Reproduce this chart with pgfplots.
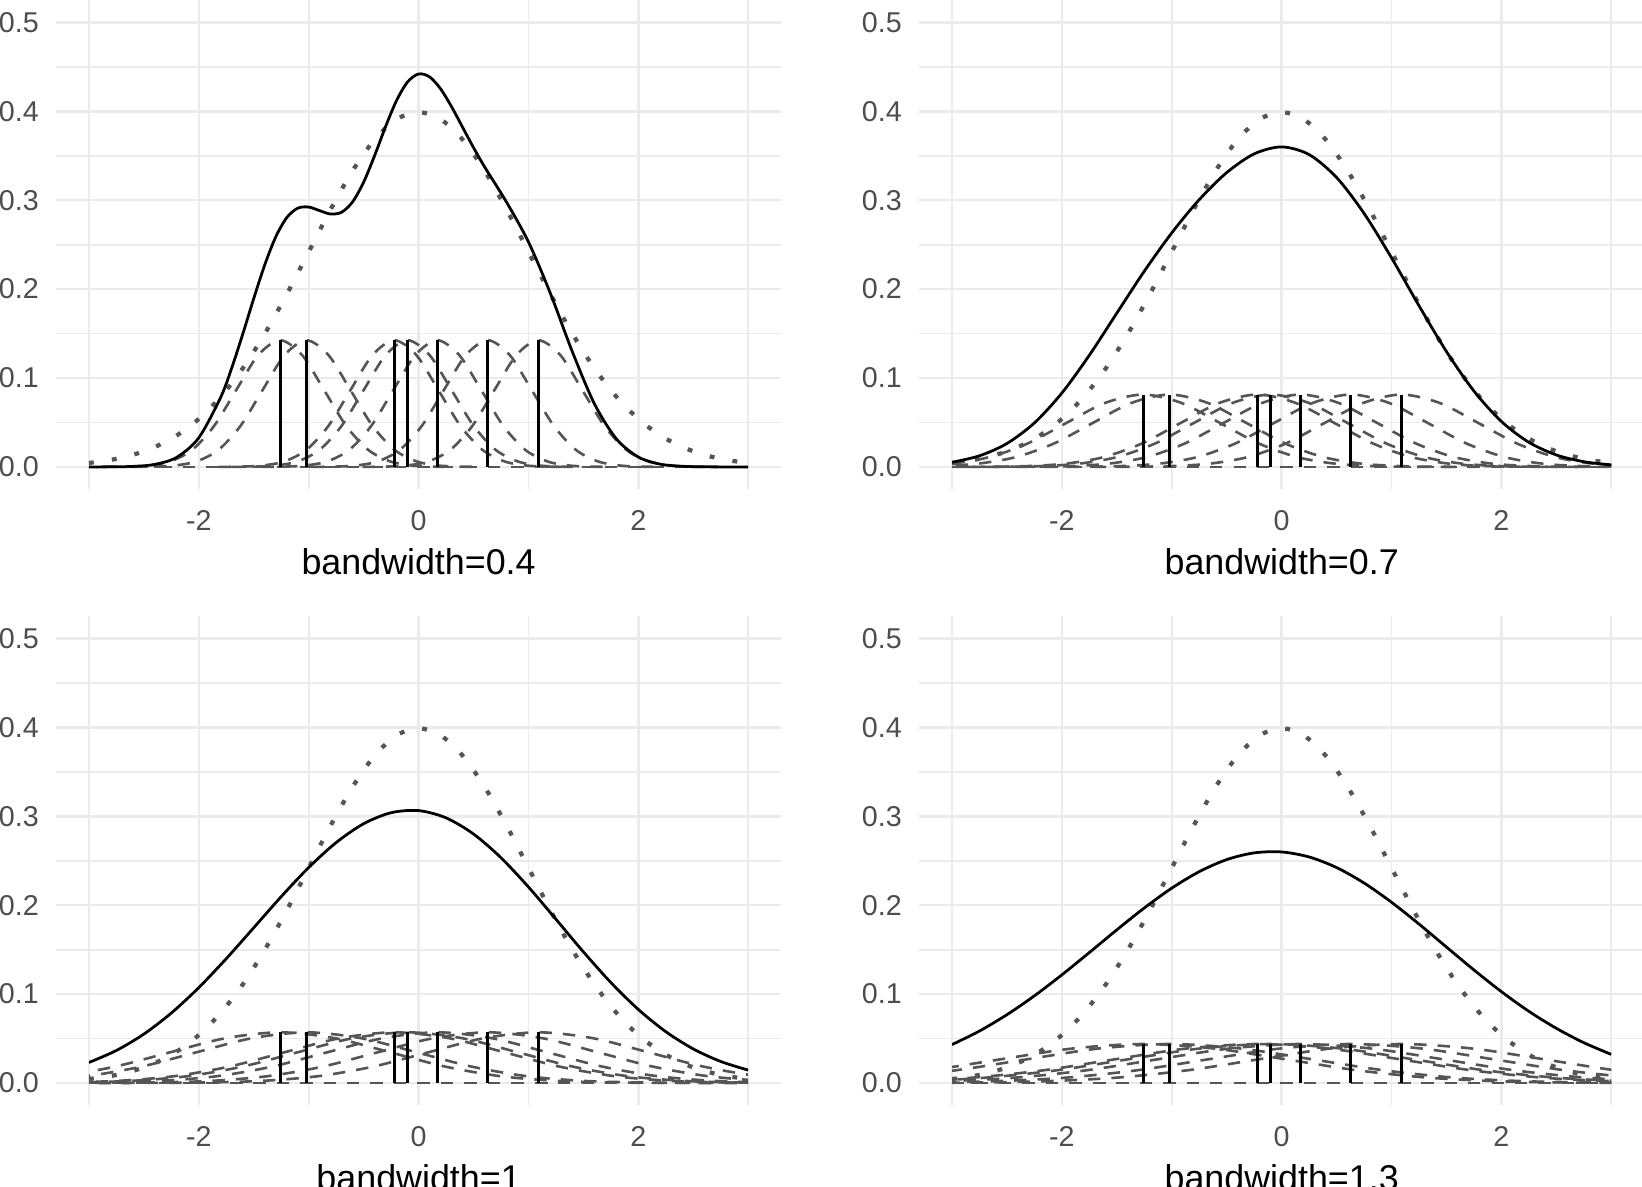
\documentclass[border=0pt]{standalone}
\usepackage{fontspec}
\setmainfont{Liberation Sans}
\usepackage{pgfplots}
\usepackage{pgfplotstable}
\pgfplotsset{compat=1.18}

\definecolor{gridgray}{HTML}{EBEBEB}
\definecolor{tickgray}{HTML}{4D4D4D}
\definecolor{curvegray}{HTML}{555555}

% Sample: -1.26 -1.02 -0.22 -0.10 0.17 0.63 1.09 (n = 7)
% Kernel tables: one shared height column y, and the x positions of each of the 7 scaled kernels
\pgfplotstableread{
y x1 x2 x3 x4 x5 x6 x7
0.00005 -2.86 -2.62 -1.82 -1.70 -1.43 -0.97 -0.51
0.00031 -2.66 -2.42 -1.62 -1.50 -1.23 -0.77 -0.31
0.00158 -2.46 -2.22 -1.42 -1.30 -1.03 -0.57 -0.11
0.00626 -2.26 -2.02 -1.22 -1.10 -0.83 -0.37 0.09
0.01928 -2.06 -1.82 -1.02 -0.90 -0.63 -0.17 0.29
0.04626 -1.86 -1.62 -0.82 -0.70 -0.43 0.03 0.49
0.08642 -1.66 -1.42 -0.62 -0.50 -0.23 0.23 0.69
0.12574 -1.46 -1.22 -0.42 -0.30 -0.03 0.43 0.89
0.14248 -1.26 -1.02 -0.22 -0.10 0.17 0.63 1.09
0.12574 -1.06 -0.82 -0.02 0.10 0.37 0.83 1.29
0.08642 -0.86 -0.62 0.18 0.30 0.57 1.03 1.49
0.04626 -0.66 -0.42 0.38 0.50 0.77 1.23 1.69
0.01928 -0.46 -0.22 0.58 0.70 0.97 1.43 1.89
0.00626 -0.26 -0.02 0.78 0.90 1.17 1.63 2.09
0.00158 -0.06 0.18 0.98 1.10 1.37 1.83 2.29
0.00031 0.14 0.38 1.18 1.30 1.57 2.03 2.49
0.00005 0.34 0.58 1.38 1.50 1.77 2.23 2.69
}\kernA

\pgfplotstableread{
y x1 x2 x3 x4 x5 x6 x7
0.00003 -4.06 -3.82 -3.02 -2.90 -2.63 -2.17 -1.71
0.00018 -3.71 -3.47 -2.67 -2.55 -2.28 -1.82 -1.36
0.00090 -3.36 -3.12 -2.32 -2.20 -1.93 -1.47 -1.01
0.00358 -3.01 -2.77 -1.97 -1.85 -1.58 -1.12 -0.66
0.01102 -2.66 -2.42 -1.62 -1.50 -1.23 -0.77 -0.31
0.02643 -2.31 -2.07 -1.27 -1.15 -0.88 -0.42 0.04
0.04938 -1.96 -1.72 -0.92 -0.80 -0.53 -0.07 0.39
0.07185 -1.61 -1.37 -0.57 -0.45 -0.18 0.28 0.74
0.08142 -1.26 -1.02 -0.22 -0.10 0.17 0.63 1.09
0.07185 -0.91 -0.67 0.13 0.25 0.52 0.98 1.44
0.04938 -0.56 -0.32 0.48 0.60 0.87 1.33 1.79
0.02643 -0.21 0.03 0.83 0.95 1.22 1.68 2.14
0.01102 0.14 0.38 1.18 1.30 1.57 2.03 2.49
0.00358 0.49 0.73 1.53 1.65 1.92 2.38 2.84
0.00090 0.84 1.08 1.88 2.00 2.27 2.73 3.19
0.00018 1.19 1.43 2.23 2.35 2.62 3.08 3.54
0.00003 1.54 1.78 2.58 2.70 2.97 3.43 3.89
}\kernB

\pgfplotstableread{
y x1 x2 x3 x4 x5 x6 x7
0.00002 -5.26 -5.02 -4.22 -4.10 -3.83 -3.37 -2.91
0.00012 -4.76 -4.52 -3.72 -3.60 -3.33 -2.87 -2.41
0.00063 -4.26 -4.02 -3.22 -3.10 -2.83 -2.37 -1.91
0.00250 -3.76 -3.52 -2.72 -2.60 -2.33 -1.87 -1.41
0.00771 -3.26 -3.02 -2.22 -2.10 -1.83 -1.37 -0.91
0.01850 -2.76 -2.52 -1.72 -1.60 -1.33 -0.87 -0.41
0.03457 -2.26 -2.02 -1.22 -1.10 -0.83 -0.37 0.09
0.05030 -1.76 -1.52 -0.72 -0.60 -0.33 0.13 0.59
0.05699 -1.26 -1.02 -0.22 -0.10 0.17 0.63 1.09
0.05030 -0.76 -0.52 0.28 0.40 0.67 1.13 1.59
0.03457 -0.26 -0.02 0.78 0.90 1.17 1.63 2.09
0.01850 0.24 0.48 1.28 1.40 1.67 2.13 2.59
0.00771 0.74 0.98 1.78 1.90 2.17 2.63 3.09
0.00250 1.24 1.48 2.28 2.40 2.67 3.13 3.59
0.00063 1.74 1.98 2.78 2.90 3.17 3.63 4.09
0.00012 2.24 2.48 3.28 3.40 3.67 4.13 4.59
0.00002 2.74 2.98 3.78 3.90 4.17 4.63 5.09
}\kernC

\pgfplotstableread{
y x1 x2 x3 x4 x5 x6 x7
0.00001 -6.46 -6.22 -5.42 -5.30 -5.03 -4.57 -4.11
0.00010 -5.81 -5.57 -4.77 -4.65 -4.38 -3.92 -3.46
0.00049 -5.16 -4.92 -4.12 -4.00 -3.73 -3.27 -2.81
0.00193 -4.51 -4.27 -3.47 -3.35 -3.08 -2.62 -2.16
0.00593 -3.86 -3.62 -2.82 -2.70 -2.43 -1.97 -1.51
0.01423 -3.21 -2.97 -2.17 -2.05 -1.78 -1.32 -0.86
0.02659 -2.56 -2.32 -1.52 -1.40 -1.13 -0.67 -0.21
0.03869 -1.91 -1.67 -0.87 -0.75 -0.48 -0.02 0.44
0.04384 -1.26 -1.02 -0.22 -0.10 0.17 0.63 1.09
0.03869 -0.61 -0.37 0.43 0.55 0.82 1.28 1.74
0.02659 0.04 0.28 1.08 1.20 1.47 1.93 2.39
0.01423 0.69 0.93 1.73 1.85 2.12 2.58 3.04
0.00593 1.34 1.58 2.38 2.50 2.77 3.23 3.69
0.00193 1.99 2.23 3.03 3.15 3.42 3.88 4.34
0.00049 2.64 2.88 3.68 3.80 4.07 4.53 4.99
0.00010 3.29 3.53 4.33 4.45 4.72 5.18 5.64
0.00001 3.94 4.18 4.98 5.10 5.37 5.83 6.29
}\kernD

% Standard normal density
\pgfplotstableread{
x y
-3 0.00443
-2.8 0.00792
-2.6 0.01358
-2.4 0.02239
-2.2 0.03547
-2 0.05399
-1.8 0.07895
-1.6 0.11092
-1.4 0.14973
-1.2 0.19419
-1 0.24197
-0.8 0.28969
-0.6 0.33322
-0.4 0.36827
-0.2 0.39104
0 0.39894
0.2 0.39104
0.4 0.36827
0.6 0.33322
0.8 0.28969
1 0.24197
1.2 0.19419
1.4 0.14973
1.6 0.11092
1.8 0.07895
2 0.05399
2.2 0.03547
2.4 0.02239
2.6 0.01358
2.8 0.00792
3 0.00443
}\normtab

\pgfplotsset{
  kdepanel/.style={
    scale only axis, width=222.6pt, height=150.1pt,
    xmin=-3.3, xmax=3.3, ymin=-0.025, ymax=0.525,
    axis line style={draw=none},
    major tick length=0pt, minor tick length=0pt,
    xtick={-2,0,2}, xticklabels={-2,0,2},
    minor xtick={-3,-1,1,3},
    ytick={0,0.1,0.2,0.3,0.4,0.5}, yticklabels={0.0,0.1,0.2,0.3,0.4,0.5},
    minor ytick={0.05,0.15,0.25,0.35,0.45},
    grid=both,
    major grid style={draw=gridgray, line width=0.8pt},
    minor grid style={draw=gridgray, line width=0.55pt},
    tick label style={font=\fontsize{8.8}{10}\selectfont, text=tickgray, inner sep=0pt},
    xticklabel shift=6.4pt,
    yticklabel shift=5.1pt,
    xlabel style={at={(axis description cs:0.5,0)}, anchor=base, yshift=-26.3pt,
      font=\fontsize{11}{13}\selectfont, text=black, inner sep=0pt},
  },
  kern/.style={curvegray, line width=0.8pt, dash pattern=on 3.8pt off 3.4pt, smooth, no markers},
  norm/.style={curvegray, line width=1.3pt, dash pattern=on 1.5pt off 5.6pt, smooth, no markers},
  dens/.style={black, line width=0.85pt, smooth, no markers},
  seg/.style={black, line width=0.9pt, ycomb, no markers},
}

% the seven scaled kernels of one panel, plus the shared zero line
\newcommand{\kernels}[1]{%
  \addplot[kern] coordinates {(-3,0) (3,0)};
  \addplot[kern] table[x=x1,y=y]{#1};
  \addplot[kern] table[x=x2,y=y]{#1};
  \addplot[kern] table[x=x3,y=y]{#1};
  \addplot[kern] table[x=x4,y=y]{#1};
  \addplot[kern] table[x=x5,y=y]{#1};
  \addplot[kern] table[x=x6,y=y]{#1};
  \addplot[kern] table[x=x7,y=y]{#1};
}

\begin{document}
\begin{tikzpicture}

% bandwidth 0.4
\begin{axis}[kdepanel, at={(17.19pt,214.2pt)}, anchor=south west, xlabel={bandwidth=0.4}]
\clip (axis cs:-3,-0.025) rectangle (axis cs:3,0.525);
\kernels{\kernA}
\addplot[norm] table[x=x,y=y]{\normtab};
\addplot[dens] coordinates {
(-3,0.00001) (-2.8,0.00009) (-2.6,0.00058) (-2.4,0.00283) (-2.2,0.01085) (-2,0.03284)
(-1.8,0.07865) (-1.7,0.11159) (-1.6,0.14957) (-1.5,0.18955) (-1.4,0.22737) (-1.3,0.25876)
(-1.2,0.28039) (-1.1,0.29105) (-1,0.29228) (-0.9,0.28819) (-0.8,0.28441) (-0.7,0.28650)
(-0.6,0.29821) (-0.5,0.32030) (-0.4,0.35023) (-0.3,0.38292) (-0.2,0.41230) (-0.1,0.43303)
(0,0.44196) (0.1,0.43867) (0.2,0.42523) (0.3,0.40511) (0.4,0.38209) (0.5,0.35910)
(0.6,0.33758) (0.8,0.29780) (1,0.25297) (1.2,0.19497) (1.4,0.12928) (1.6,0.07099)
(1.8,0.03150) (2,0.01112) (2.2,0.00309) (2.4,0.00068) (2.6,0.00011) (2.8,0.00002) (3,0)};
\addplot[seg] coordinates {(-1.26,0.14248) (-1.02,0.14248) (-0.22,0.14248) (-0.10,0.14248) (0.17,0.14248) (0.63,0.14248) (1.09,0.14248)};
\end{axis}

% bandwidth 0.7
\begin{axis}[kdepanel, at={(282.1pt,214.2pt)}, anchor=south west, xlabel={bandwidth=0.7}]
\clip (axis cs:-3,-0.025) rectangle (axis cs:3,0.525);
\kernels{\kernB}
\addplot[norm] table[x=x,y=y]{\normtab};
\addplot[dens] coordinates {
(-3,0.00524) (-2.75,0.01249) (-2.5,0.02636) (-2.25,0.04951) (-2,0.08313) (-1.75,0.12569)
(-1.5,0.17305) (-1.25,0.22016) (-1,0.26326) (-0.75,0.30062) (-0.5,0.33105) (-0.25,0.35210)
(0,0.35993) (0.25,0.35126) (0.5,0.32547) (0.75,0.28512) (1,0.23509) (1.25,0.18129)
(1.5,0.12969) (1.75,0.08528) (2,0.05109) (2.25,0.02766) (2.5,0.01345) (2.75,0.00584) (3,0.00226)};
\addplot[seg] coordinates {(-1.26,0.08142) (-1.02,0.08142) (-0.22,0.08142) (-0.10,0.08142) (0.17,0.08142) (0.63,0.08142) (1.09,0.08142)};
\end{axis}

% bandwidth 1
\begin{axis}[kdepanel, at={(17.19pt,25.1pt)}, anchor=south west, xlabel={bandwidth=1}]
\clip (axis cs:-3,-0.025) rectangle (axis cs:3,0.525);
\kernels{\kernC}
\addplot[norm] table[x=x,y=y]{\normtab};
\addplot[dens] coordinates {
(-3,0.02308) (-2.75,0.03659) (-2.5,0.05505) (-2.25,0.07873) (-2,0.10735) (-1.75,0.13989)
(-1.5,0.17470) (-1.25,0.20966) (-1,0.24240) (-0.75,0.27046) (-0.5,0.29163) (-0.25,0.30401)
(0,0.30636) (0.25,0.29819) (0.5,0.28002) (0.75,0.25332) (1,0.22041) (1.25,0.18414)
(1.5,0.14744) (1.75,0.11296) (2,0.08266) (2.25,0.05767) (2.5,0.03830) (2.75,0.02417) (3,0.01448)};
\addplot[seg] coordinates {(-1.26,0.05699) (-1.02,0.05699) (-0.22,0.05699) (-0.10,0.05699) (0.17,0.05699) (0.63,0.05699) (1.09,0.05699)};
\end{axis}

% bandwidth 1.3
\begin{axis}[kdepanel, at={(282.1pt,25.1pt)}, anchor=south west, xlabel={bandwidth=1.3}]
\clip (axis cs:-3,-0.025) rectangle (axis cs:3,0.525);
\kernels{\kernD}
\addplot[norm] table[x=x,y=y]{\normtab};
\addplot[dens] coordinates {
(-3,0.04318) (-2.75,0.05847) (-2.5,0.07685) (-2.25,0.09808) (-2,0.12167) (-1.75,0.14677)
(-1.5,0.17229) (-1.25,0.19690) (-1,0.21918) (-0.75,0.23772) (-0.5,0.25126) (-0.25,0.25883)
(0,0.25985) (0.25,0.25422) (0.5,0.24230) (0.75,0.22491) (1,0.20325) (1.25,0.17873)
(1.5,0.15286) (1.75,0.12710) (2,0.10268) (2.25,0.08057) (2.5,0.06145) (2.75,0.04531) (3,0.03214)};
\addplot[seg] coordinates {(-1.26,0.04384) (-1.02,0.04384) (-0.22,0.04384) (-0.10,0.04384) (0.17,0.04384) (0.63,0.04384) (1.09,0.04384)};
\end{axis}

\pgfresetboundingbox
\path[use as bounding box] (0,0) rectangle (504pt,364.34pt);
\end{tikzpicture}
\end{document}
